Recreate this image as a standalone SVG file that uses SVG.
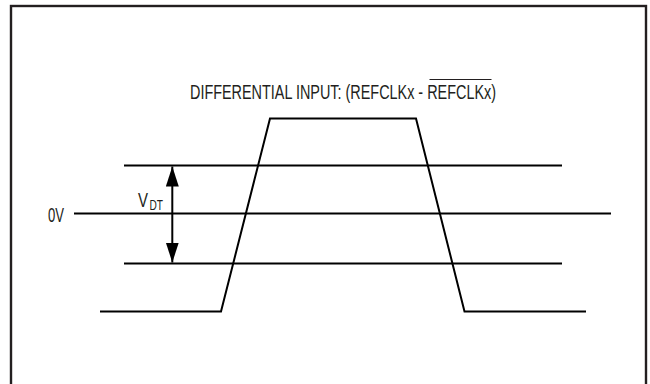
<svg xmlns="http://www.w3.org/2000/svg" width="650" height="384" viewBox="0 0 650 384">
<style>
.ln{stroke:#000;stroke-width:2;fill:none}
.tx{font-family:"Liberation Sans","Noto Sans",Arial,sans-serif;fill:#231f20}
</style>
<defs>
<marker id="ah" viewBox="0 0 20 13" refX="20" refY="6.5" markerWidth="20" markerHeight="13" markerUnits="userSpaceOnUse" orient="auto-start-reverse">
<path d="M0,0 L20,6.5 L0,13 Z" fill="#000"/>
</marker>
</defs>
<rect width="650" height="384" fill="#fff"/>
<g id="frame">
<rect x="11" y="6" width="635" height="390" fill="none" stroke="#231f20" stroke-width="2.4"/>
</g>
<g id="title">
<text class="tx" x="190" y="99.3" font-size="20" textLength="306" lengthAdjust="spacingAndGlyphs">DIFFERENTIAL INPUT: (REFCLKx - REFCLKx)</text>
<line x1="429.5" y1="79.5" x2="491.5" y2="79.5" stroke="#231f20" stroke-width="1.2"/>
</g>
<g id="levels">
<line class="ln" x1="124" y1="165.5" x2="562" y2="165.5"/>
<line class="ln" x1="74" y1="213.5" x2="611" y2="213.5"/>
<line class="ln" x1="124" y1="263.5" x2="562" y2="263.5"/>
</g>
<g id="label-0v">
<text class="tx" x="48" y="221.7" font-size="20" textLength="16" lengthAdjust="spacingAndGlyphs">0V</text>
</g>
<g id="label-vdt">
<text class="tx" x="138" y="206.7" font-size="20" textLength="10" lengthAdjust="spacingAndGlyphs">V</text>
<text class="tx" x="149.5" y="209.5" font-size="14.5" textLength="13.5" lengthAdjust="spacingAndGlyphs">DT</text>
</g>
<g id="connectors">
<line class="ln" x1="172.3" y1="166.5" x2="172.3" y2="262.5" marker-start="url(#ah)" marker-end="url(#ah)"/>
</g>
<g id="waveform">
<polyline class="ln" stroke-linejoin="miter" points="100,311.5 221,311.5 270,118.5 416,118.5 464.5,311.5 586,311.5"/>
</g>
</svg>
